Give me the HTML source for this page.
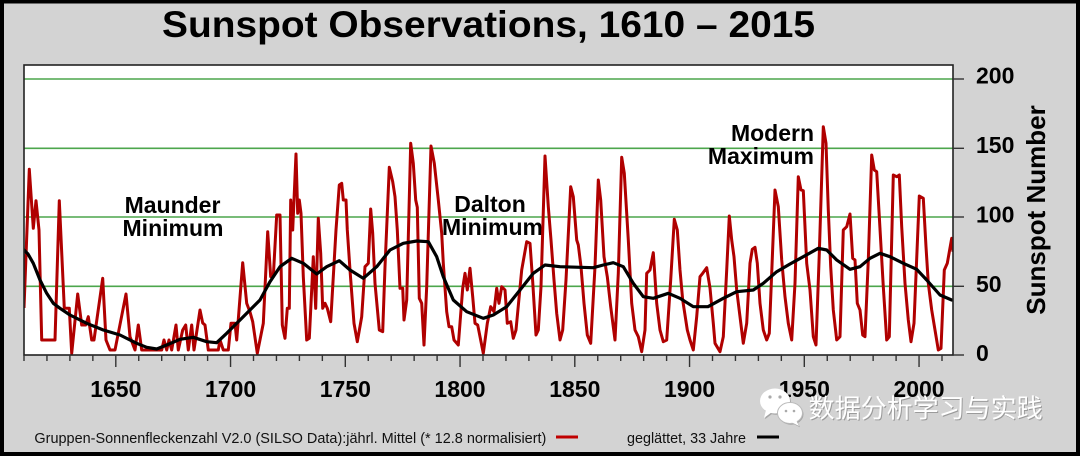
<!DOCTYPE html>
<html><head><meta charset="utf-8"><style>
html,body{margin:0;padding:0;background:#d3d3d3;}
svg{display:block;}
</style></head><body>
<svg width="1080" height="456" viewBox="0 0 1080 456" xmlns="http://www.w3.org/2000/svg">
<defs><clipPath id="pc"><rect x="24" y="65" width="929" height="290"/></clipPath></defs>
<rect x="0" y="0" width="1080" height="456" fill="#d3d3d3"/>
<rect x="2" y="1.5" width="1076" height="452.5" fill="none" stroke="#000" stroke-width="4"/>
<text x="162" y="37" font-family="Liberation Sans, sans-serif" font-weight="bold" font-size="37" textLength="653" lengthAdjust="spacingAndGlyphs" fill="#000">Sunspot Observations, 1610 – 2015</text>
<rect x="24" y="65" width="929" height="290" fill="#fff"/>
<g stroke="#4ca64c" stroke-width="1.6">
<line x1="24" y1="79" x2="953" y2="79"/>
<line x1="24" y1="148.3" x2="953" y2="148.3"/>
<line x1="24" y1="217" x2="953" y2="217"/>
<line x1="24" y1="286.3" x2="953" y2="286.3"/>
</g>
<g font-family="Liberation Sans, sans-serif" font-weight="bold" font-size="23" fill="#000">
<text x="172.5" y="213" text-anchor="middle">Maunder</text>
<text x="173" y="236" text-anchor="middle">Minimum</text>
<text x="490" y="212" text-anchor="middle">Dalton</text>
<text x="492.5" y="235" text-anchor="middle">Minimum</text>
<text x="814" y="141" text-anchor="end">Modern</text>
<text x="814" y="164" text-anchor="end">Maximum</text>
</g>
<g clip-path="url(#pc)">
<polyline fill="none" stroke="#b00000" stroke-width="3" stroke-linejoin="round" points="24,308 29.3,169.3 33.3,228.3 36,200.7 39,230 41.7,340 55,340 59.3,200.7 64.3,308.3 69.3,308.3 71.7,353.3 77.7,294 81.7,325 85.7,325 88.3,316.7 91.7,340 94,340 102.7,278.3 106,340 110,350 115,350 126,294 130,336.7 135,350 138.3,325 141.7,350 161.7,350 164,340 166.7,350 169,340 171.7,350 176,325 178.3,350 182.7,330 185.7,325 188.3,350 191.7,325 194,350 200,310 202.7,323 205,325 208.3,350 218.3,350 220,340 223.3,350 228.3,350 231,323.3 235,323.3 236.7,340 242.7,262.7 246.7,303.3 250,312 252.7,321.7 257.3,353.3 263.3,323.3 267.7,231.7 270.7,276.7 273.3,276.7 276.7,215 280,215 282.3,325 285,338.3 287.3,308.3 289.3,308.3 290.7,200 292.7,230 296,154 297.7,213.3 299.3,200 301,213.3 303.3,276.7 306.7,340 309.3,338.3 313.3,256.7 315.7,308.3 318.3,218.3 320.7,253.3 322.7,308.3 325,303.3 327.3,308.3 330.7,321.7 336,230 339.3,185 341.7,183.3 343.3,200 346,200 347.3,230 350,270 354,323.3 357.3,341.7 361.7,316.7 365,266.7 368.3,263.3 370.7,209 372.7,233.3 375,283.3 379.3,330 382.7,331.7 385,266.7 389.3,167.3 392.7,181.7 395,196.7 397.3,230 400,288.3 402.7,288.3 404,320 406.7,300 410.7,143.3 413.3,163.3 415.7,200 417.3,207.3 419.3,298.3 421.7,303.3 424,345 426.7,286.7 431,146 434.3,163.3 438.3,200 441.7,233.3 443.3,263.3 446.7,311.7 449,326.7 451.7,326.7 454,340 458.3,345 462.7,288.3 465,273.3 467.3,290 470,268.3 472.7,296.7 475,323.3 477.7,325 483.3,353.3 487.3,323.3 490.7,306.7 494,311.7 496.7,288.3 499,303.3 501.7,286.7 505,290 507.3,323.3 510.7,321.7 513.3,338.3 516,330 521.7,270 526.7,241.7 530,243.3 532.7,281.7 536,335 538.3,330 541,286.7 545,156 548.3,206.7 551,240 554,280 556.7,313.3 560,340 562.7,330 566,280 570.7,186.7 573.3,196.7 576.7,240 578.3,245 581,266.7 584,303.3 587.3,335 590.7,343.3 595,266.7 598.3,180 600.7,200 604,256.7 607.3,276.7 610.7,306.7 615,340 618.3,273.3 621.7,157.3 624.3,173.3 628.3,240 631.7,303.3 635,330 638.3,336.7 641.7,351.7 645,330 646.7,273.3 650,270 653.3,252.7 656.7,303.3 660,330 663.3,341.7 666.7,340 670.7,280 674.3,219.3 677.3,230 680,270 682.7,300 687.3,330 690,340 693.3,350 696.7,316.7 700,276.7 702.7,273.3 706.7,267.7 710,288 713.3,323.3 715,343.3 720,351.7 723.3,336.7 726.7,270 729.3,216 731.7,240 734,256.7 736.7,290 740,316.7 743.3,343.3 746.7,323.3 750,263.3 752.3,249.3 755,247.3 757.3,263.3 760,303.3 763.3,330 766.7,340 769.3,333.3 771.7,273.3 775,190 778.3,206.7 781.7,260 785,296.7 788.3,323.3 791.7,340 795,283.3 798.3,176.7 801,190 803.3,190.7 806.7,263.3 810,290 813.3,336.7 816,345 819.3,253.3 823.3,126.7 826,143.3 828.3,210 830.7,266.7 833.3,310 836.7,340 840,336.7 843.3,230 846.7,226.7 850,214 852.7,258.3 855,260 857.3,303.3 860,310 862.7,335 865,336.7 868.3,260 871.7,155 874.3,170 876.7,171.7 879.3,216.7 883.3,286.7 886.7,340 889.3,336.7 893.3,175 896.7,176.7 899.3,175 901.7,226.7 905,283.3 908.3,320 911,341.7 914,323.3 919.3,196 923.3,198.3 926,246.7 928.3,283.3 931.7,310 935,330 938.3,350 941,348.3 944.3,270 947.3,263.3 951.7,238.3 953,251.7"/>
<polyline fill="none" stroke="#000" stroke-width="3.2" stroke-linejoin="round" stroke-linecap="round" points="24,250 28,254 33.3,263.3 40,280 46.7,293.3 53.3,303.3 60,308.3 70,315 86.7,323.3 103.3,330 120,335 136.7,343.3 146.7,347.3 156.7,349 166.7,345 180,339.3 193.3,337.3 206.7,341.7 216.7,342.7 226.7,333.3 240,320 250,310 260,300 270,281.7 280,266.7 291.7,258.3 303.3,263.3 316.7,274 326.7,266.7 339.3,260.7 350,270 363.3,278.3 376.7,266.7 390,250 403.3,243.3 416.7,241 428.3,241.7 436.7,256.7 443.3,276.7 453.3,300 466.7,311.7 483.3,318.3 493.3,315 506.7,306.7 520,290 533.3,273.3 545,265 560,266.7 580,267.3 593.3,267.7 603.3,265 613.3,262.7 623.3,266.7 633.3,283.3 643.3,296.7 653.3,298.3 668.3,293.3 680,298.3 693.3,306.7 708,306.7 723.3,298.3 736.7,291.7 753.3,290 763.3,283.3 776.7,271.7 790,264 803.3,256.7 818.3,248.3 826.7,250 836.7,260 850,269.3 860,266.7 870,258.3 880,253.3 890,256.7 903.3,263.3 916.7,269.3 926.7,280 940,295 951.7,300"/>
</g>
<rect x="24" y="65" width="929" height="290" fill="none" stroke="#222" stroke-width="1.6"/>
<g stroke="#333" stroke-width="1.4">
<line x1="953" y1="79" x2="964" y2="79"/>
<line x1="953" y1="148.3" x2="964" y2="148.3"/>
<line x1="953" y1="217" x2="964" y2="217"/>
<line x1="953" y1="286.3" x2="964" y2="286.3"/>
<line x1="953" y1="355" x2="964" y2="355"/>
<line x1="24" y1="355" x2="24" y2="361"/><line x1="46.95" y1="355" x2="46.95" y2="361"/><line x1="69.9" y1="355" x2="69.9" y2="361"/><line x1="92.85" y1="355" x2="92.85" y2="361"/>
<line x1="115.8" y1="355" x2="115.8" y2="367"/>
<line x1="138.75" y1="355" x2="138.75" y2="361"/><line x1="161.7" y1="355" x2="161.7" y2="361"/><line x1="184.65" y1="355" x2="184.65" y2="361"/><line x1="207.6" y1="355" x2="207.6" y2="361"/>
<line x1="230.55" y1="355" x2="230.55" y2="367"/>
<line x1="253.5" y1="355" x2="253.5" y2="361"/><line x1="276.45" y1="355" x2="276.45" y2="361"/><line x1="299.4" y1="355" x2="299.4" y2="361"/><line x1="322.35" y1="355" x2="322.35" y2="361"/>
<line x1="345.3" y1="355" x2="345.3" y2="367"/>
<line x1="368.25" y1="355" x2="368.25" y2="361"/><line x1="391.2" y1="355" x2="391.2" y2="361"/><line x1="414.15" y1="355" x2="414.15" y2="361"/><line x1="437.1" y1="355" x2="437.1" y2="361"/>
<line x1="460.05" y1="355" x2="460.05" y2="367"/>
<line x1="483" y1="355" x2="483" y2="361"/><line x1="505.95" y1="355" x2="505.95" y2="361"/><line x1="528.9" y1="355" x2="528.9" y2="361"/><line x1="551.85" y1="355" x2="551.85" y2="361"/>
<line x1="574.8" y1="355" x2="574.8" y2="367"/>
<line x1="597.75" y1="355" x2="597.75" y2="361"/><line x1="620.7" y1="355" x2="620.7" y2="361"/><line x1="643.65" y1="355" x2="643.65" y2="361"/><line x1="666.6" y1="355" x2="666.6" y2="361"/>
<line x1="689.55" y1="355" x2="689.55" y2="367"/>
<line x1="712.5" y1="355" x2="712.5" y2="361"/><line x1="735.45" y1="355" x2="735.45" y2="361"/><line x1="758.4" y1="355" x2="758.4" y2="361"/><line x1="781.35" y1="355" x2="781.35" y2="361"/>
<line x1="804.3" y1="355" x2="804.3" y2="367"/>
<line x1="827.25" y1="355" x2="827.25" y2="361"/><line x1="850.2" y1="355" x2="850.2" y2="361"/><line x1="873.15" y1="355" x2="873.15" y2="361"/><line x1="896.1" y1="355" x2="896.1" y2="361"/>
<line x1="919.05" y1="355" x2="919.05" y2="367"/>
<line x1="942" y1="355" x2="942" y2="361"/>
</g>
<g font-family="Liberation Sans, sans-serif" font-weight="bold" font-size="23" fill="#000">
<text x="976" y="83.5">200</text>
<text x="976" y="153">150</text>
<text x="976" y="222.5">100</text>
<text x="976" y="292">50</text>
<text x="976" y="361">0</text>
<g text-anchor="middle">
<text x="115.8" y="397">1650</text>
<text x="230.6" y="397">1700</text>
<text x="345.3" y="397">1750</text>
<text x="460" y="397">1800</text>
<text x="574.8" y="397">1850</text>
<text x="689.6" y="397">1900</text>
<text x="804.3" y="397">1950</text>
<text x="919" y="397">2000</text>
</g>
</g>
<text transform="translate(1045,210) rotate(-90)" text-anchor="middle" font-family="Liberation Sans, sans-serif" font-weight="bold" font-size="26" fill="#000">Sunspot Number</text>
<g font-family="Liberation Sans, sans-serif" font-size="14.5" fill="#111">
<text x="34.4" y="443" textLength="512" lengthAdjust="spacingAndGlyphs">Gruppen-Sonnenfleckenzahl V2.0 (SILSO Data):jährl. Mittel (* 12.8 normalisiert)</text>
<text x="627" y="443" textLength="119" lengthAdjust="spacingAndGlyphs">geglättet, 33 Jahre</text>
</g>
<line x1="556" y1="437" x2="578" y2="437" stroke="#c00000" stroke-width="3"/>
<line x1="757" y1="437" x2="779" y2="437" stroke="#000" stroke-width="3"/>
<!-- watermark -->
<g>
<g fill="#888" opacity="0.6" transform="translate(1,1.2)">
<ellipse cx="775" cy="401" rx="15" ry="12.5"/>
<path d="M766 410 L764 418 L772 412 Z"/>
<ellipse cx="790" cy="413" rx="12.5" ry="10.5"/>
<path d="M796 420 L799 426 L791 422 Z"/>
</g>
<g fill="#fff">
<ellipse cx="775" cy="401" rx="15" ry="12.5"/>
<path d="M766 410 L764 418 L772 412 Z"/>
</g>
<ellipse cx="790" cy="413" rx="12.5" ry="10.5" fill="#fff" stroke="#bbb" stroke-width="1"/>
<path d="M796 420 L799 426 L791 422 Z" fill="#fff"/>
<g fill="#aaa">
<circle cx="770" cy="397" r="1.6"/><circle cx="780" cy="397" r="1.6"/>
<circle cx="786" cy="411" r="1.3"/><circle cx="794" cy="411" r="1.3"/>
</g>
<text x="809.6" y="418.6" font-family="Liberation Sans, 'Noto Sans CJK SC', sans-serif" font-size="26" fill="#777" opacity="0.6">数据分析学习与实践</text>
<text x="808.6" y="417.6" font-family="Liberation Sans, 'Noto Sans CJK SC', sans-serif" font-size="26" fill="#fff">数据分析学习与实践</text>
</g>
</svg>
</body></html>
